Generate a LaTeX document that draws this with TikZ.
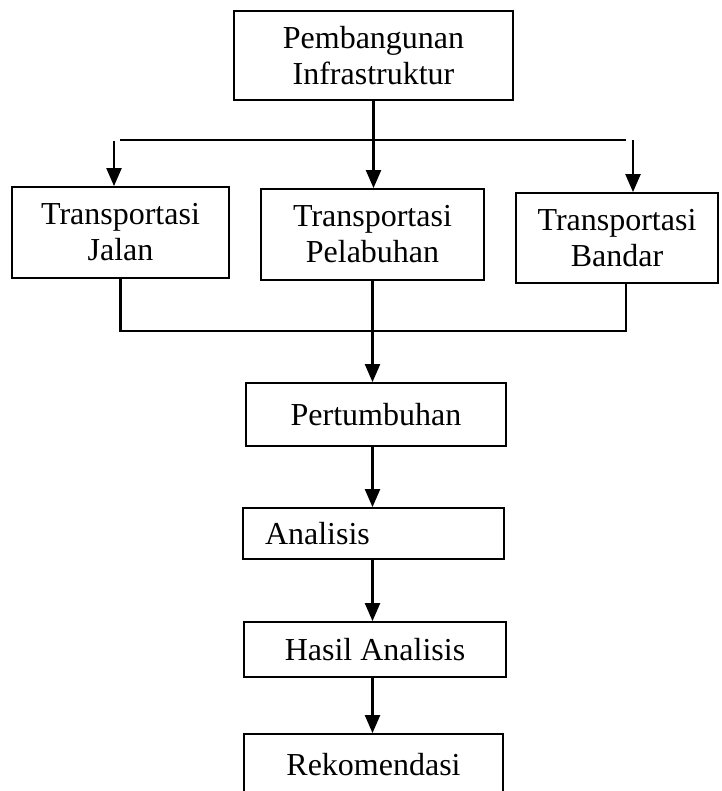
\documentclass[tikz,border=0pt]{standalone}
\usepackage{fontspec}
\setmainfont{Liberation Serif}
\usetikzlibrary{positioning, arrows.meta, calc}
\tikzset{
  flow/.style={
	x=1pt, y=1pt,
	>={Triangle[width=15pt,length=18pt]}, % filled heads as in the original
	line width=2.2pt,
	node distance=117pt, % centre to centre in the chain
	every node/.style={font=\fontsize{32}{36}\selectfont},
  },
  kotak/.style={draw, rectangle, line width=1.8pt, inner sep=0pt, align=center},
}

\begin{document}
\begin{tikzpicture}[flow]
\useasboundingbox (0,0) rectangle (721,-791);
\node[kotak, minimum width=279pt, minimum height=89pt] at (373.5,-55.5) (pb) {Pembangunan\\Infrastruktur};
\node[kotak, minimum width=223pt, minimum height=91pt, below of=pb, yshift=-62pt, xshift=-1pt] (tp) {Transportasi\\Pelabuhan};
\node[kotak, minimum width=217pt, minimum height=91pt, left of=tp, yshift=2pt, xshift=-135pt] (tj) {Transportasi\\Jalan};
\node[kotak, minimum width=202pt, minimum height=90pt, right of=tp, yshift=-3.5pt, xshift=127.5pt] (tb) {Transportasi\\Bandar};
\node[kotak, minimum width=260pt, minimum height=63pt, below of=tp, yshift=-63pt, xshift=3.5pt] (pt) {Pertumbuhan};
\node[kotak, minimum width=261pt, minimum height=51pt, below of=pt, yshift=-2pt, xshift=-2.5pt,
      inner xsep=22pt, text width=217pt, align=left] (an) {Analisis};
\node[kotak, minimum width=262pt, minimum height=55pt, below of=an, yshift=1pt, xshift=1.5pt] (ha) {Hasil Analisis};
\node[kotak, minimum width=259pt, minimum height=62pt, below of=ha, yshift=1.5pt, xshift=-1.5pt] (rk) {Rekomendasi};

% cabang ke tiga moda
\coordinate (sl) at (120,-140);
\coordinate (sr) at (626,-140);
\coordinate (al) at (114,-141);
\coordinate (ar) at (633,-140);
\draw (sl) -- (sr);
\draw[->] (pb.south) -- (pb.south |- tp.north);
\draw[->] (al) -- (al |- tj.north);
\draw[->] (ar) -- (ar |- tb.north);

% gabungan ke pertumbuhan
\coordinate (cb) at (626,-331);
\draw (tj.south) |- (cb) -- (cb |- tb.south);
\draw[->] (tp.south) -- (tp.south |- pt.north);
\draw[->] (pt.south -| tp.south) -- (tp.south |- an.north);
\draw[->] (an.south -| tp.south) -- (tp.south |- ha.north);
\draw[->] (ha.south -| tp.south) -- (tp.south |- rk.north);
\end{tikzpicture}
\end{document}
